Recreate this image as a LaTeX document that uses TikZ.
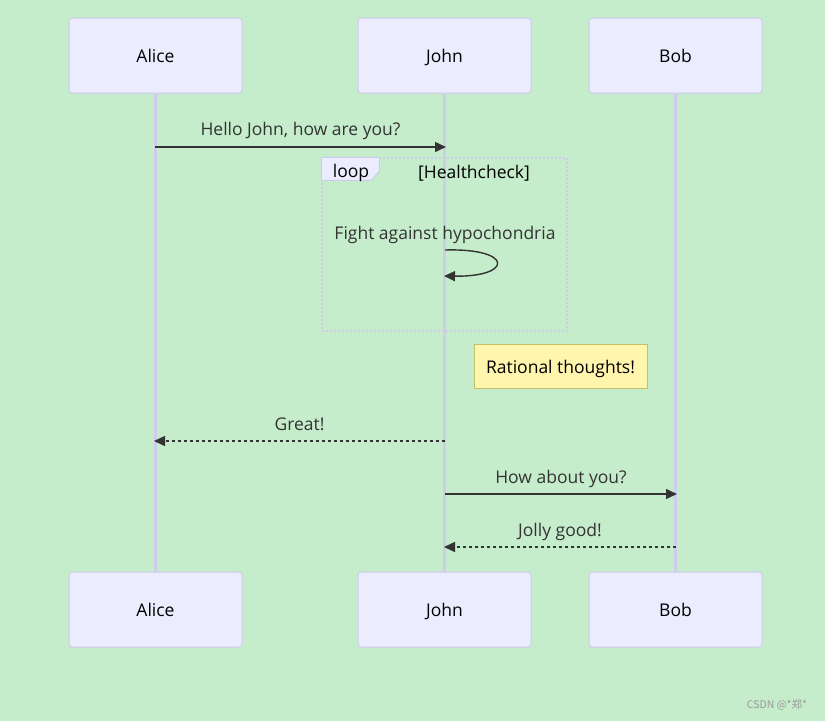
\documentclass[tikz,border=0pt]{standalone}
\usepackage{fontspec}
\setmainfont{Open Sans}
\newfontfamily\cjk{Noto Sans CJK SC}
\usetikzlibrary{arrows.meta,positioning,backgrounds}
\definecolor{seqgreen}{HTML}{C6EDCB}
\definecolor{seqactor}{HTML}{ECECFF}
\definecolor{seqedge}{HTML}{D0CAEE}
\definecolor{seqline}{HTML}{D2CCEC}
\definecolor{seqtext}{HTML}{333333}
\definecolor{seqnote}{HTML}{FFF5AD}
\definecolor{seqnoteedge}{HTML}{C2C266}
\begin{document}
\begin{tikzpicture}[x=1pt,y=-1pt,
  font=\fontsize{17.5}{20}\selectfont,
  every node/.style={text=seqtext},
  actor/.style={draw=seqedge,fill=seqactor,rounded corners=3pt,line width=1pt,outer sep=0pt,minimum width=173pt,minimum height=75pt,text height=14pt,text depth=0pt,text=black},
  life/.style={seqline,line width=2.2pt},
  msg/.style={-{Triangle[length=11pt,width=10pt]},seqtext,line width=1.4pt},
  reply/.style={msg,dash pattern=on 3pt off 3pt},
  lbl/.style={inner sep=0pt,text depth=4pt},
  frame/.style={draw=seqedge,line width=1.5pt,dash pattern=on 2pt off 2pt,minimum width=245pt,minimum height=173pt},
  note/.style={draw=seqnoteedge,fill=seqnote,line width=1pt,minimum width=173pt,minimum height=44pt,text height=15pt,text depth=0pt,text=black}]
  % actors
  \node[actor] (alice) at (155.5,55.5) {Alice};
  \node[actor,right=116pt of alice] (john) {John};
  \node[actor,right=58pt of john] (bob) {Bob};
  \node[actor,below=479pt of alice] (aliceB) {Alice};
  \node[actor,below=479pt of john] (johnB) {John};
  \node[actor,below=479pt of bob] (bobB) {Bob};
  \begin{scope}[on background layer]
    \fill[seqgreen] (0,0) rectangle (825,721);
    \draw[life] (alice) -- (aliceB); \draw[life] (john) -- (johnB); \draw[life] (bob) -- (bobB);
  \end{scope}
  % points on the lifelines
  \foreach \nm/\x/\y in {helloA/155/147,helloJ/446/147,selfA/445/250,selfB/444/276,
      greatJ/445/441,greatA/154/441,howJ/445/494,howB/677/494,jollyB/676/547,jollyJ/444/547}
    \coordinate (\nm) at (\x,\y);
  % loop frame
  \node[frame] (loop) at (444.5,244.5) {};
  \draw[seqedge,fill=seqactor,line width=1pt] (loop.north west) -- ++(58,0) -- ++(0,14) -- ++(-8,9) -- ++(-50,0) -- cycle;
  \node[text=black] (looptag) at (351,173) {loop};
  \node[text=black] (guard) at (474,173) {[Healthcheck]};
  % messages
  \draw[msg] (helloA) -- node[lbl,above=7pt] {Hello John, how are you?} (helloJ);
  \node[lbl] (selftxt) at (445,235) {Fight against hypochondria};
  \draw[msg] (selfA) .. controls +(69,-2) and +(69,1) .. (selfB);
  \node[note] (thought) at (560.5,366) {Rational thoughts!};
  \draw[reply] (greatJ) -- node[lbl,above=6pt] {Great!} (greatA);
  \draw[msg] (howJ) -- node[lbl,above=6pt] {How about you?} (howB);
  \draw[reply] (jollyB) -- node[lbl,above=6pt] {Jolly good!} (jollyJ);
  \node[text=black!40,font=\cjk\fontsize{10.5}{12}\selectfont] (mark) at (777,705) {CSDN @*郑*};
\end{tikzpicture}
\end{document}
